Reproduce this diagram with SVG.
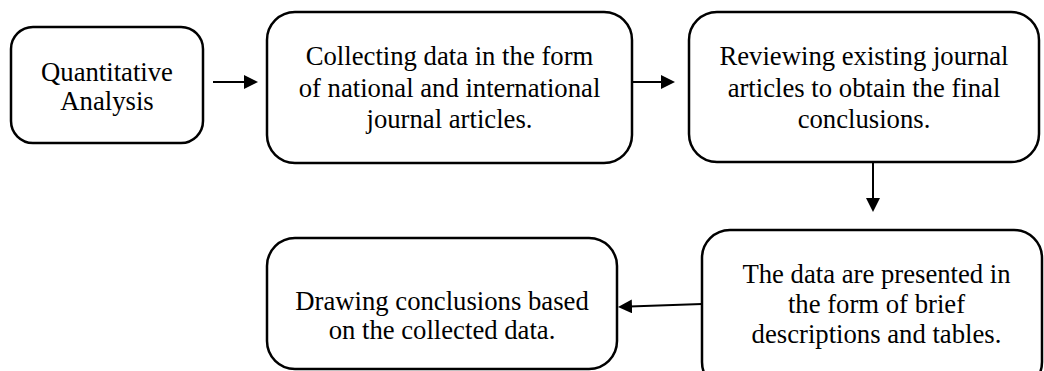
<svg xmlns="http://www.w3.org/2000/svg" width="1044" height="371" viewBox="0 0 1044 371">
<defs>
<marker id="ah" viewBox="0 0 10 10" refX="7" refY="5" markerWidth="14" markerHeight="14" markerUnits="userSpaceOnUse" orient="auto">
<path d="M0,0 L10,5 L0,10 z" fill="#000"/>
</marker>
<style>
.box{fill:#fff;stroke:#000;stroke-width:2.5}
.t{font-family:"Liberation Serif","Times New Roman",serif;font-size:26.7px;fill:#000;text-anchor:middle}
.c{stroke:#000;stroke-width:2;fill:none}
</style>
</defs>
<rect width="1044" height="371" fill="#fff"/>
<g id="node1">
<rect class="box" x="11" y="27" width="192" height="116" rx="22"/>
<text class="t" x="107" y="81">Quantitative</text>
<text class="t" x="107" y="110">Analysis</text>
</g>
<g id="node2">
<rect class="box" x="267" y="12" width="365" height="151" rx="28"/>
<text class="t" x="449.5" y="65">Collecting data in the form</text>
<text class="t" x="449.5" y="97">of national and international</text>
<text class="t" x="449.5" y="128">journal articles.</text>
</g>
<g id="node3">
<rect class="box" x="689" y="12" width="350" height="150" rx="28"/>
<text class="t" x="864" y="65">Reviewing existing journal</text>
<text class="t" x="864" y="97">articles to obtain the final</text>
<text class="t" x="864" y="128">conclusions.</text>
</g>
<g id="node4">
<rect class="box" x="702" y="230" width="340" height="160" rx="28"/>
<text class="t" x="876.5" y="283">The data are presented in</text>
<text class="t" x="876.5" y="313">the form of brief</text>
<text class="t" x="876.5" y="343">descriptions and tables.</text>
</g>
<g id="node5">
<rect class="box" x="267" y="238" width="350" height="131" rx="28"/>
<text class="t" x="442" y="310">Drawing conclusions based</text>
<text class="t" x="442" y="339">on the collected data.</text>
</g>
<g id="connectors">
<line class="c" x1="213" y1="82" x2="253.8" y2="82" marker-end="url(#ah)"/>
<line class="c" x1="632" y1="82" x2="670.8" y2="82" marker-end="url(#ah)"/>
<line class="c" x1="873" y1="162" x2="873" y2="207.8" marker-end="url(#ah)"/>
<line class="c" x1="702" y1="304" x2="622.2" y2="306.8" marker-end="url(#ah)"/>
</g>
</svg>
